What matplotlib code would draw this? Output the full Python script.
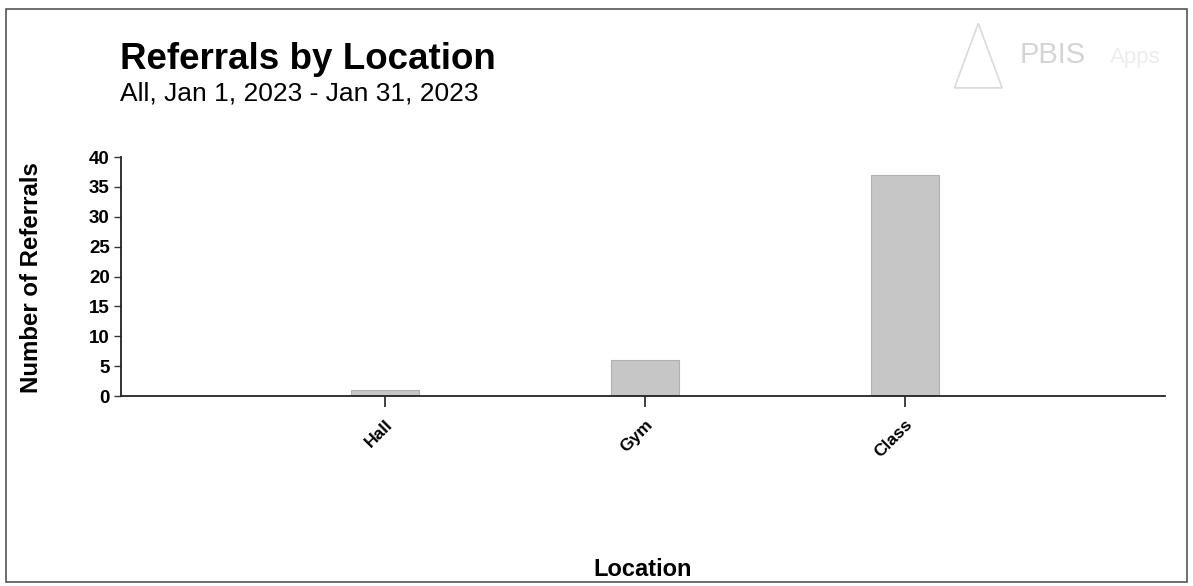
import matplotlib
matplotlib.use("Agg")
import matplotlib.pyplot as plt
from matplotlib.patches import Rectangle

categories = ["Hall", "Gym", "Class"]
referrals = [1, 6, 37]
yticks = [0, 5, 10, 15, 20, 25, 30, 35, 40]

plt.rcParams['font.family'] = ['Liberation Sans', 'DejaVu Sans']

fig = plt.figure(figsize=(11.93, 5.86), dpi=100)
ax = fig.add_axes([0.1014, 0.324, 0.875, 0.408])

x = list(range(len(categories)))
ax.bar(x, referrals, width=0.26, color='#c6c6c6', edgecolor='#b0b0b0', linewidth=0.8, zorder=2)

ax.set_xlim(-1.015, 3.0)
ax.set_ylim(0, 40)
ax.set_yticks(yticks)
ax.set_yticklabels([str(t) for t in yticks], fontsize=13.5, fontweight='bold')
ax.set_xticks(x)
ax.set_xticklabels(categories, rotation=45, ha='right', rotation_mode='anchor',
                   fontsize=12.5, fontweight='bold')
ax.tick_params(axis='y', length=5, width=1, color='#333333', pad=3)
ax.tick_params(axis='x', length=8, width=1.2, color='#222222', pad=7)

for s in ['top', 'right']:
    ax.spines[s].set_visible(False)
for s in ['left', 'bottom']:
    ax.spines[s].set_color('#222222')
    ax.spines[s].set_linewidth(1.3)

ax.set_ylabel("Number of Referrals", fontsize=17.3, fontweight='bold')
ax.yaxis.set_label_coords(-0.0747, 0.496)

fig.text(0.539, 0.017, "Location", fontsize=17, fontweight='bold', ha='center', va='baseline')

fig.text(0.1006, 0.883, "Referrals by Location", fontsize=26.5, fontweight='bold', ha='left', va='baseline')
fig.text(0.1006, 0.829, "All, Jan 1, 2023 - Jan 31, 2023", fontsize=19, ha='left', va='baseline')

# faint watermark
fig.text(0.855, 0.893, "PBIS", fontsize=21, color='#d4d4d4', ha='left', va='baseline')
fig.text(0.93, 0.893, "Apps", fontsize=16, color='#ededed', ha='left', va='baseline')
fig.patches.append(plt.Polygon([[0.800, 0.85], [0.820, 0.96], [0.840, 0.85]], closed=True,
                               transform=fig.transFigure, fill=False, edgecolor='#dadada', linewidth=1.2))

# frame around the chart
fig.patches.append(Rectangle((0.005, 0.006), 0.99, 0.978, transform=fig.transFigure,
                             fill=False, edgecolor='#555555', linewidth=1.2))

fig.savefig("out.png", dpi=100, facecolor='white')
